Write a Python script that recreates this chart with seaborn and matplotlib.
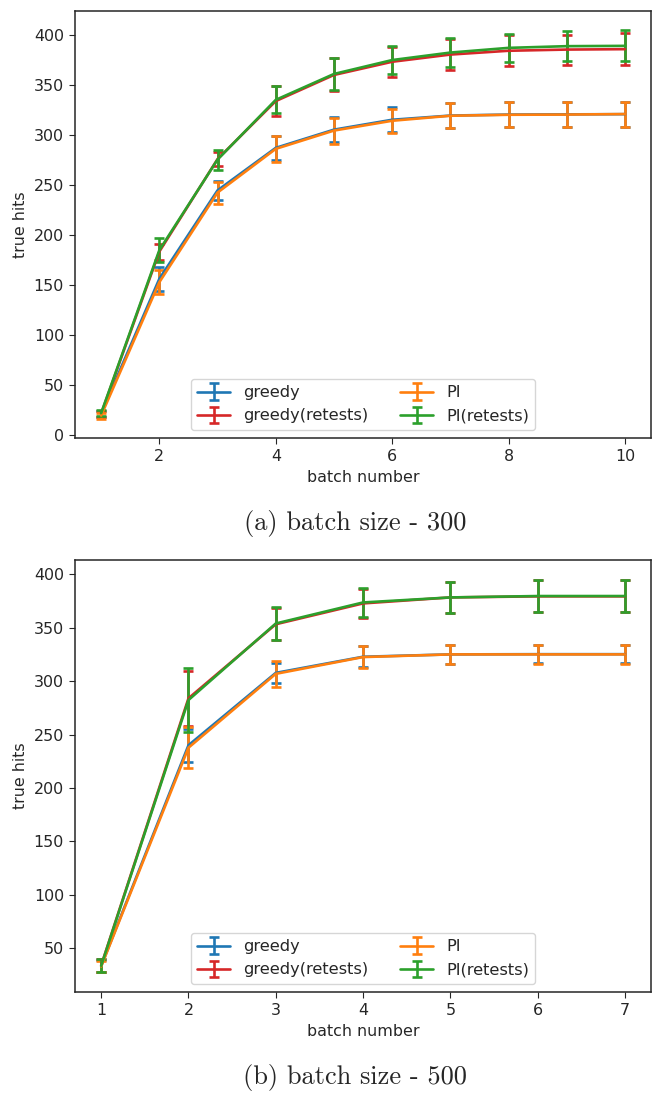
import numpy as np
import matplotlib
matplotlib.use("Agg")
import matplotlib.pyplot as plt
import seaborn as sns

# batch size 300
x_300 = [1, 2, 3, 4, 5, 6, 7, 8, 9, 10]
greedy_300 = [21, 155.8, 244.2, 286.7, 304.9, 314.8, 319.0, 320.0, 320.2, 320.4]
greedy_300_err = [3, 12, 9.5, 12, 12.5, 12.6, 12.5, 12.3, 12.4, 12.4]
greedy_rt_300 = [21, 183, 275.5, 333.5, 359.6, 372.8, 380.0, 383.8, 385.0, 385.4]
greedy_rt_300_err = [3, 8, 7, 15, 16.5, 15, 15.5, 15.5, 15, 16]
pi_300 = [19, 152.4, 242.0, 285.7, 304.0, 313.8, 318.8, 319.8, 320.0, 320.5]
pi_300_err = [3, 12, 11, 13, 13, 12, 12.4, 12.3, 12.5, 12.5]
pi_rt_300 = [21.5, 184.5, 275.0, 334.7, 360.6, 374.5, 382.0, 386.7, 388.4, 388.7]
pi_rt_300_err = [3, 12, 10, 13.5, 16, 14, 14.5, 14, 15, 15.5]

# batch size 500
x_500 = [1, 2, 3, 4, 5, 6, 7]
greedy_500 = [33.5, 240.0, 307.7, 322.8, 325.0, 325.2, 325.2]
greedy_500_err = [6, 15.5, 9.6, 10, 8.7, 8.7, 8.7]
greedy_rt_500 = [34, 283.9, 353.2, 372.7, 378.3, 379.3, 379.3]
greedy_rt_500_err = [6, 26, 15, 13.6, 14.6, 15, 15]
pi_500 = [33, 237.7, 306.8, 322.5, 325.0, 325.0, 325.0]
pi_500_err = [5, 19, 12, 10, 8.7, 8.7, 8.7]
pi_rt_500 = [33.7, 282.3, 353.9, 373.6, 378.3, 379.6, 379.6]
pi_rt_500_err = [6, 30, 15, 13.5, 14.6, 15.2, 15.2]

labels = ["greedy", "greedy(retests)", "PI", "PI(retests)"]

sns.set_style("ticks")
plt.rcParams["font.family"] = ["DejaVu Sans"]
pal = sns.color_palette("tab10")
colors = [pal[0], pal[3], pal[1], pal[2]]

fig = plt.figure(figsize=(6.66, 10.96), dpi=100)
ax1 = fig.add_axes([0.1126, 0.6004, 0.865, 0.3896])
ax2 = fig.add_axes([0.1126, 0.0949, 0.865, 0.394])

panels = [
    (ax1, x_300, [(greedy_300, greedy_300_err), (greedy_rt_300, greedy_rt_300_err),
                  (pi_300, pi_300_err), (pi_rt_300, pi_rt_300_err)]),
    (ax2, x_500, [(greedy_500, greedy_500_err), (greedy_rt_500, greedy_rt_500_err),
                  (pi_500, pi_500_err), (pi_rt_500, pi_rt_500_err)]),
]

for ax, xs, series in panels:
    for (ys, err), lab, c in zip(series, labels, colors):
        ax.errorbar(xs, ys, yerr=err, label=lab, color=c, lw=1.9,
                    elinewidth=1.9, capsize=3.5, capthick=1.9)
    ax.set_xlabel("batch number", fontsize=11.4)
    ax.set_ylabel("true hits", fontsize=11.4)
    ax.tick_params(labelsize=11.4, length=4.5)
    for s in ax.spines.values():
        s.set_linewidth(1.1)
    ax.legend(loc="lower center", ncol=2, fontsize=11.7)

ax1.set_xticks([2, 4, 6, 8, 10])
ax1.set_yticks(np.arange(0, 401, 50))
ax2.set_xticks(x_500)
ax2.set_yticks(np.arange(50, 401, 50))

# sub-captions
fig.text(0.533, 0.522, "(a) batch size - 300", ha="center", va="center",
         family="cmr10", fontsize=19)
fig.text(0.533, 0.0173, "(b) batch size - 500", ha="center", va="center",
         family="cmr10", fontsize=19)

fig.savefig("out.png", dpi=100)
